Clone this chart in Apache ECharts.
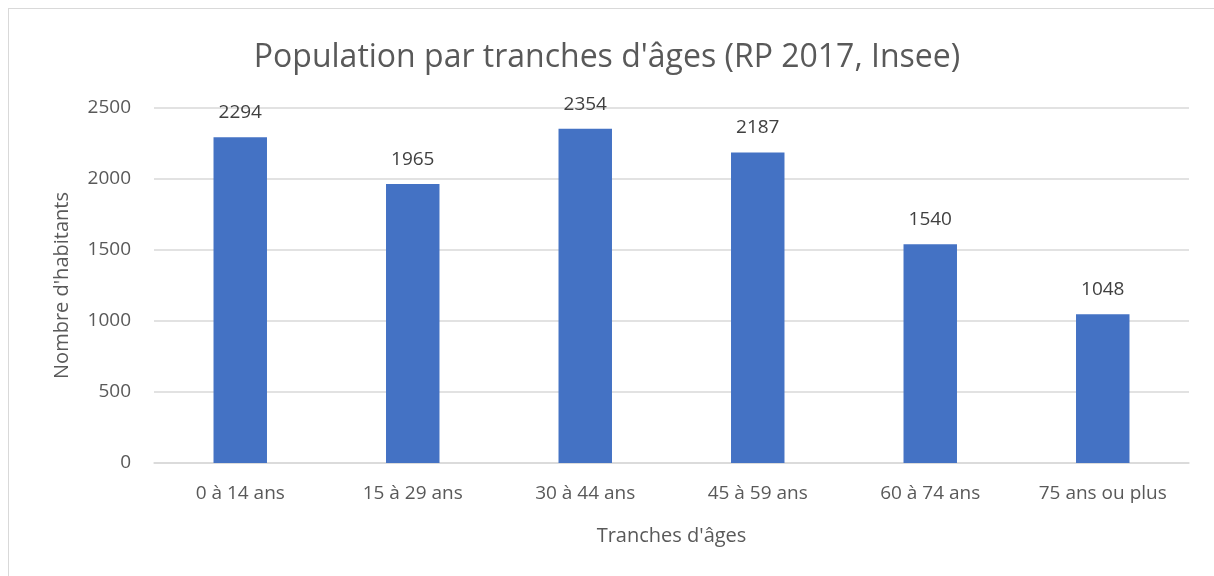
<!DOCTYPE html>
<html>
<head>
<meta charset="utf-8">
<script src="https://cdn.jsdelivr.net/npm/echarts@6/dist/echarts.min.js"></script>
<style>
html,body{margin:0;padding:0;background:#fff;}
#frame{position:absolute;left:8px;top:8px;width:1220px;height:590px;border:1px solid #d9d9d9;}
#chart{position:absolute;left:0;top:0;width:1214px;height:576px;}
</style>
</head>
<body>
<div id="frame"></div>
<div id="chart"></div>
<script>
var categories = ['0 à 14 ans', '15 à 29 ans', '30 à 44 ans', '45 à 59 ans', '60 à 74 ans', '75 ans ou plus'];
var population = [2294, 1965, 2354, 2187, 1540, 1048];
var titleText = "Population par tranches d'âges (RP 2017, Insee)";
var xName = "Tranches d'âges";
var yName = "Nombre d'habitants";

var font = 'Open Sans';
var mChart = echarts.init(document.getElementById('chart'), null, {renderer: 'canvas'});
var option = {
	backgroundColor: 'transparent',
	animation: false,
	title: {
		text: titleText,
		left: 'center',
		top: 37,
		textStyle: {fontFamily: font, fontSize: 32, fontWeight: 'normal', color: '#595959'}
	},
	grid: {left: 154, right: 25, top: 108, bottom: 113},
	xAxis: {
		type: 'category',
		data: categories,
		name: xName,
		nameLocation: 'middle',
		nameGap: 63,
		nameTextStyle: {fontFamily: font, fontSize: 20, color: '#595959'},
		axisLine: {lineStyle: {color: '#d9d9d9', width: 1.5}},
		axisTick: {show: false},
		axisLabel: {fontFamily: font, fontSize: 19, color: '#595959', margin: 21}
	},
	yAxis: {
		type: 'value',
		min: 0,
		max: 2500,
		interval: 500,
		name: yName,
		nameLocation: 'middle',
		nameGap: 82,
		nameTextStyle: {fontFamily: font, fontSize: 20, color: '#595959'},
		axisLine: {show: false},
		axisTick: {show: false},
		axisLabel: {fontFamily: font, fontSize: 19, color: '#595959', margin: 23, formatter: function (v) { return String(v); }},
		splitLine: {lineStyle: {color: '#d9d9d9', width: 1.5}}
	},
	series: [{
		type: 'bar',
		data: population,
		barWidth: '31%',
		itemStyle: {color: '#4472C4'},
		label: {
			show: true,
			position: 'top',
			distance: 15,
			fontFamily: font,
			fontSize: 19,
			color: '#404040'
		}
	}]
};
mChart.setOption(option);
</script>
</body>
</html>
